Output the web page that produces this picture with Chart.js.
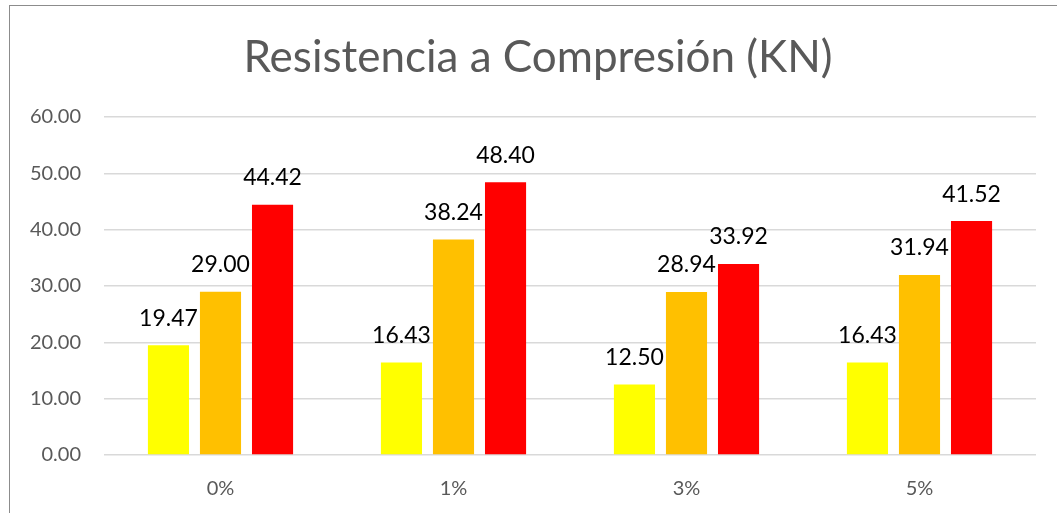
<!DOCTYPE html>
<html>
<head>
<meta charset="utf-8">
<script src="https://cdn.jsdelivr.net/npm/chart.js@4"></script>
<style>
  body { margin: 0; background: #fff; }
  #box {
    position: absolute; left: 9px; top: 5px; width: 1048px; height: 508px;
    border-left: 1px solid #8c8c8c; border-top: 1px solid #8c8c8c;
  }
  #wrap { position: absolute; left: 0; top: 0; width: 1047px; height: 507px; }
</style>
</head>
<body>
<div id="box"><div id="wrap"><canvas id="myChart"></canvas></div></div>
<script>
const titulo = 'Resistencia a Compresión (KN)'
const labels = ['0%', '1%', '3%', '5%']
const serie1 = [19.47, 16.43, 12.50, 16.43]
const serie2 = [29.00, 38.24, 28.94, 31.94]
const serie3 = [44.42, 48.40, 33.92, 41.52]

// etiquetas de valor encima de cada barra + titulo
const valueLabels = {
  id: 'valueLabels',
  afterDatasetsDraw(chart) {
    const ctx = chart.ctx
    ctx.save()
    ctx.textAlign = 'center'
    ctx.textBaseline = 'middle'
    ctx.font = '44px Lato'
    ctx.fillStyle = '#595959'
    ctx.fillText(titulo, 528, 52)
    ctx.font = '23px Lato'
    ctx.fillStyle = '#000'
    chart.data.datasets.forEach((ds, i) => {
      chart.getDatasetMeta(i).data.forEach((bar, j) => {
        ctx.fillText(ds.data[j].toFixed(2), bar.x, bar.y - 27)
      })
    })
    ctx.restore()
  }
}

const ctx = document.getElementById('myChart')

const data = {
  labels,
  datasets: [
    { label: 'A', data: serie1, backgroundColor: '#FFFF00' },
    { label: 'B', data: serie2, backgroundColor: '#FFC000' },
    { label: 'C', data: serie3, backgroundColor: '#FF0000' }
  ]
}

const config = {
  type: 'bar',
  data: data,
  options: {
    responsive: true,
    maintainAspectRatio: false,
    animation: false,
    categoryPercentage: 0.67,
    barPercentage: 0.79,
    layout: { padding: { left: 0, right: 21, top: 111, bottom: 0 } },
    plugins: {
      legend: { display: false },
      tooltip: { enabled: false },
      title: { display: false }
    },
    scales: {
      x: {
        afterFit(scale) { scale.height = 58 },
        grid: { display: false },
        border: { display: false },
        ticks: { color: '#595959', font: { family: 'Lato', size: 20 }, padding: 14 }
      },
      y: {
        min: 0,
        max: 60,
        afterFit(scale) { scale.width = 94 },
        grid: { color: '#d9d9d9', lineWidth: 1.5, drawTicks: false },
        border: { display: false },
        ticks: {
          stepSize: 10,
          color: '#595959',
          font: { family: 'Lato', size: 20 },
          padding: 23,
          callback: v => v.toFixed(2)
        }
      }
    }
  },
  plugins: [valueLabels]
}

const myChart = new Chart(ctx, config)
</script>
</body>
</html>
